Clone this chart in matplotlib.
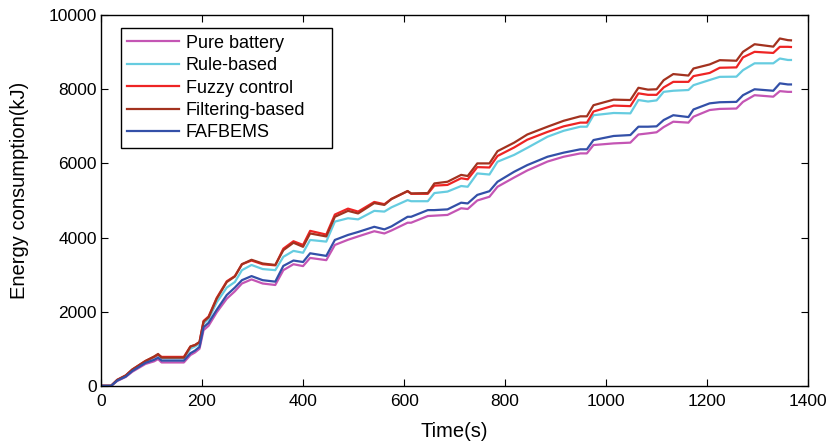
import matplotlib
matplotlib.use("Agg")
import matplotlib.pyplot as plt

plt.rcParams["font.family"] = ["Liberation Sans", "DejaVu Sans"]

# time grid (s) shared by all strategies
time_s = [0, 20, 32, 49, 62, 88, 105, 113, 120, 164, 177, 186, 195, 203, 213,
          229, 249, 265, 279, 298, 320, 345, 361, 381, 400, 414, 446, 463,
          489, 509, 541, 561, 575, 607, 614, 647, 660, 686, 713, 726, 745,
          769, 785, 818, 844, 884, 916, 949, 962, 975, 1015, 1048, 1064,
          1083, 1100, 1114, 1133, 1163, 1173, 1205, 1225, 1258, 1271, 1294,
          1331, 1344, 1360, 1366]

pure_battery = [0, 0, 130, 240, 380, 590, 660, 720, 630, 630, 830, 900, 1000,
                1500, 1620, 1980, 2350, 2550, 2760, 2870, 2760, 2720, 3120,
                3280, 3230, 3450, 3390, 3800, 3940, 4030, 4170, 4110, 4190,
                4400, 4400, 4580, 4590, 4610, 4790, 4770, 5000, 5100, 5370,
                5620, 5810, 6050, 6180, 6270, 6270, 6495, 6540, 6560, 6780,
                6810, 6840, 6980, 7125, 7100, 7260, 7440, 7470, 7480, 7660,
                7840, 7800, 7950, 7930, 7930]

rule_based = [0, 0, 150, 270, 430, 650, 760, 830, 740, 740, 1000, 1060, 1130,
              1680, 1800, 2250, 2650, 2800, 3120, 3260, 3150, 3120, 3480,
              3640, 3590, 3935, 3890, 4430, 4520, 4490, 4720, 4700, 4815,
              5010, 4980, 4980, 5200, 5240, 5390, 5370, 5730, 5700, 6045,
              6230, 6420, 6720, 6880, 6990, 6990, 7300, 7360, 7350, 7710,
              7670, 7700, 7930, 7960, 7980, 8110, 8250, 8335, 8340, 8515,
              8700, 8700, 8830, 8790, 8790]

fuzzy_control = [0, 0, 160, 280, 440, 670, 780, 840, 780, 780, 1060, 1100,
                 1180, 1750, 1870, 2370, 2820, 2960, 3280, 3380, 3280, 3250,
                 3700, 3900, 3800, 4180, 4080, 4620, 4780, 4700, 4960, 4900,
                 5040, 5250, 5180, 5180, 5400, 5420, 5600, 5570, 5900, 5890,
                 6200, 6430, 6640, 6850, 7000, 7100, 7100, 7400, 7560, 7545,
                 7890, 7850, 7850, 8050, 8200, 8200, 8355, 8440, 8580, 8590,
                 8860, 9010, 8980, 9145, 9145, 9140]

filtering_based = [0, 0, 160, 280, 440, 670, 790, 860, 760, 760, 1060, 1100,
                   1180, 1730, 1850, 2350, 2800, 2950, 3280, 3400, 3300, 3260,
                   3660, 3860, 3750, 4110, 4030, 4560, 4720, 4650, 4930, 4880,
                   5040, 5255, 5190, 5200, 5460, 5505, 5690, 5660, 6000, 6000,
                   6330, 6560, 6780, 6990, 7150, 7270, 7270, 7570, 7720, 7710,
                   8040, 7990, 8000, 8245, 8410, 8370, 8560, 8670, 8785, 8770,
                   9010, 9215, 9150, 9370, 9325, 9320]

fafbems = [0, 0, 140, 250, 400, 620, 700, 760, 680, 680, 880, 950, 1050,
           1580, 1700, 2050, 2450, 2650, 2850, 2960, 2850, 2810, 3235, 3380,
           3340, 3575, 3505, 3935, 4070, 4150, 4290, 4220, 4300, 4560, 4560,
           4740, 4740, 4760, 4940, 4920, 5150, 5250, 5505, 5775, 5955, 6180,
           6290, 6380, 6380, 6630, 6740, 6765, 6990, 6990, 7000, 7170, 7300,
           7250, 7455, 7620, 7650, 7660, 7840, 8000, 7960, 8160, 8130, 8130]

series = [
    ("Pure battery", pure_battery, "#c455b4"),
    ("Rule-based", rule_based, "#66cce0"),
    ("Fuzzy control", fuzzy_control, "#ee2424"),
    ("Filtering-based", filtering_based, "#a3321f"),
    ("FAFBEMS", fafbems, "#3350a8"),
]

fig = plt.figure(figsize=(8.28, 4.45), dpi=100)
ax = fig.add_axes([0.122, 0.133, 0.854, 0.833])

for name, values, color in series:
    ax.plot(time_s, values, color=color, linewidth=1.6, label=name)

ax.set_xlim(0, 1400)
ax.set_ylim(0, 10000)
ax.set_xticks(range(0, 1401, 200))
ax.set_yticks(range(0, 10001, 2000))

ax.tick_params(direction="in", top=True, right=True, labelsize=12.5,
               length=5, width=0.8)
ax.tick_params(axis="x", pad=6)
ax.tick_params(axis="y", pad=3)
for spine in ax.spines.values():
    spine.set_linewidth(1.0)

ax.set_xlabel("Time(s)", fontsize=14.5, labelpad=9)
ax.set_ylabel("Energy consumption(kJ)", fontsize=14.5)
ax.yaxis.set_label_coords(-0.102, 0.528)

# legend box spanning the same area as in the reference
leg = ax.legend(
    loc="upper left",
    bbox_to_anchor=(0.0279, 0.6407, 0.2985, 0.3235),
    mode="expand",
    borderaxespad=0,
    fontsize=13,
    handlelength=2.9,
    handletextpad=0.35,
    labelspacing=0.3,
    borderpad=0.35,
    fancybox=False,
    framealpha=1,
    edgecolor="black",
)
leg.get_frame().set_linewidth(1.0)

fig.savefig("out.png", dpi=100)
